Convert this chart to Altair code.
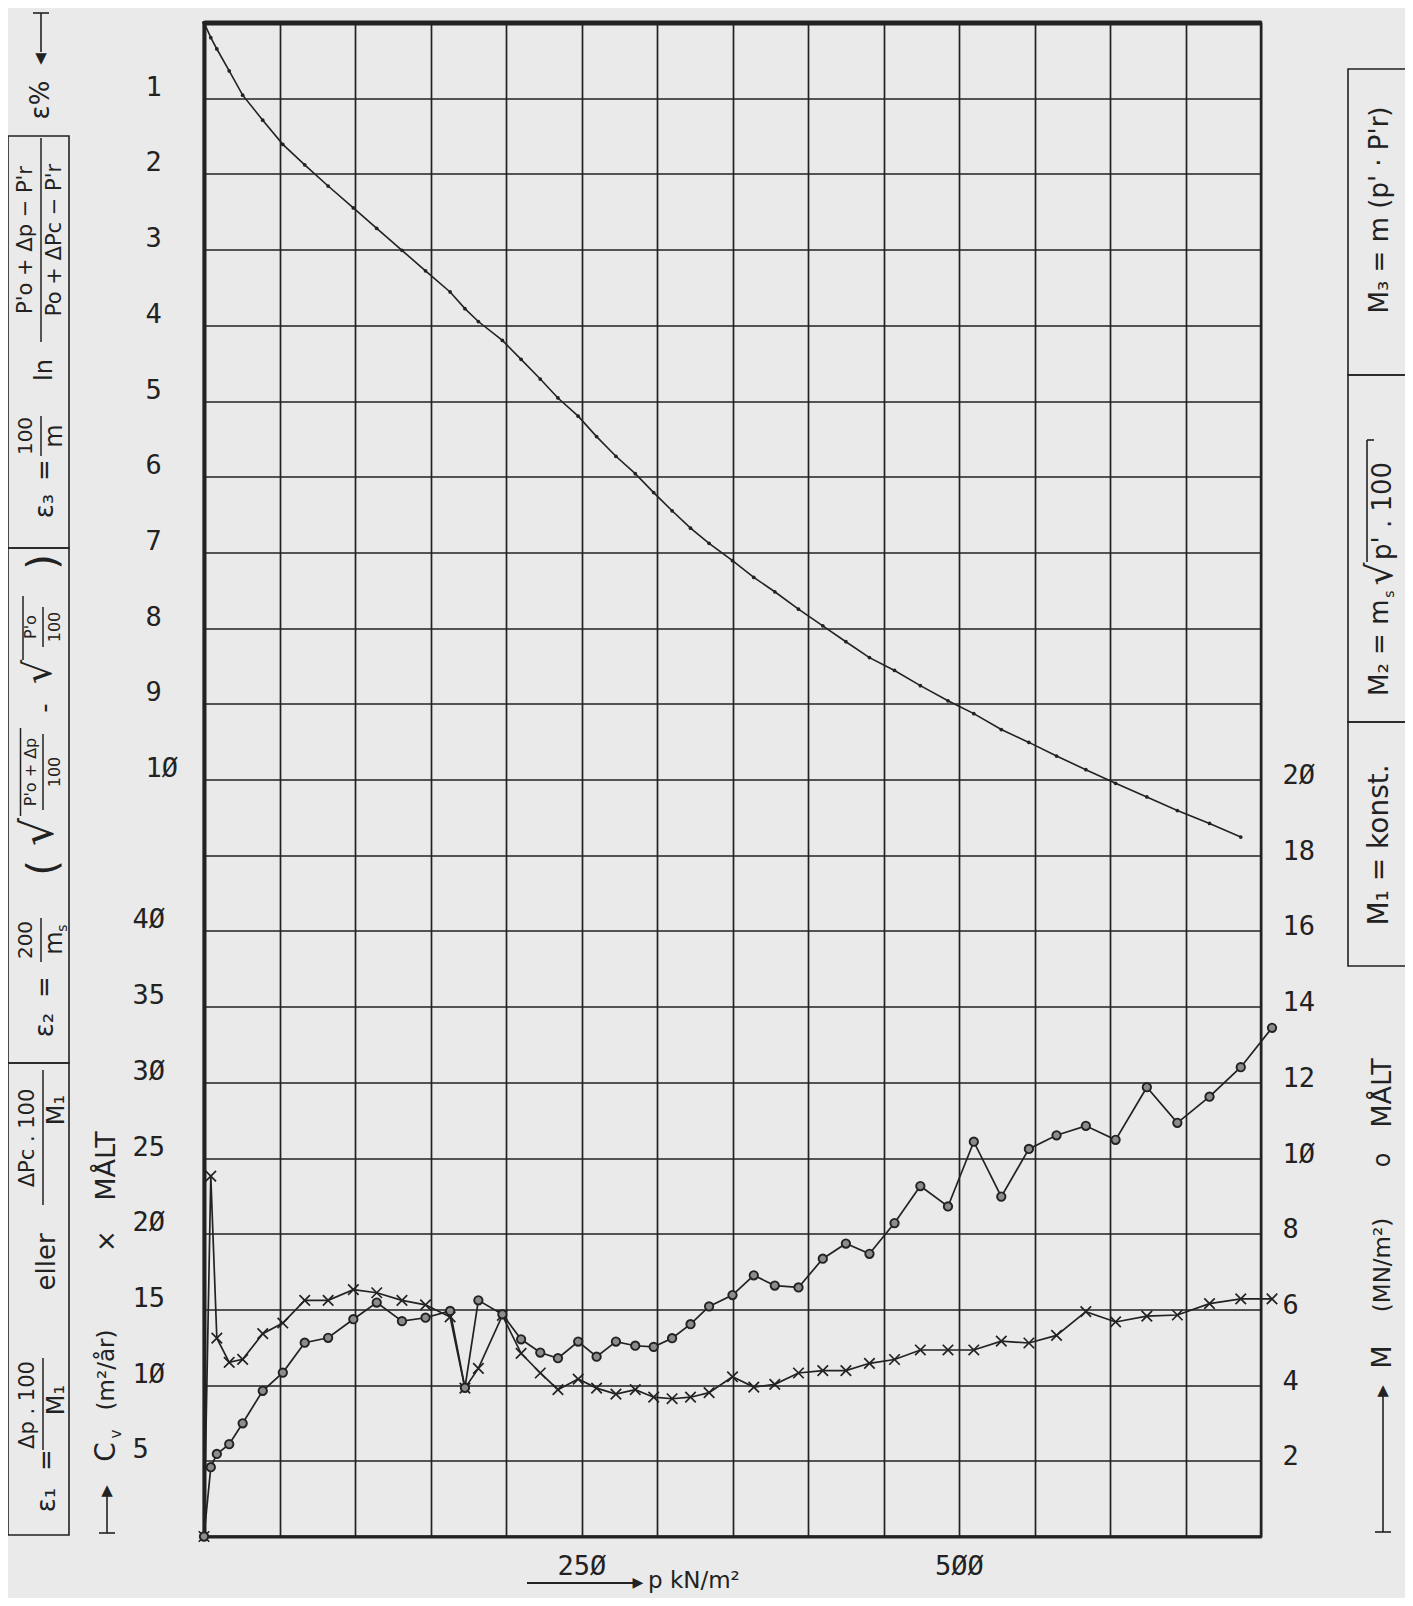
import altair as alt
import pandas as pd

# ---------------- data ----------------
# load steps p (kN/m2), shared by all three series
P = [0, 4.5, 8.5, 16.7, 25.6, 38.9, 52.2, 66.7, 82.2, 98.9,
     114.4, 131.1, 146.7, 163, 172.8, 181.7, 197.6, 210, 222.7, 234.4,
     247.8, 260, 272.8, 285.6, 297.8, 310, 322.2, 334.5, 350, 364.1,
     378, 393.7, 409.8, 425.1, 440.7, 457.3, 474.4, 492.7, 509.8, 528,
     546.3, 564.6, 584, 603.7, 624.4, 644.6, 665.9, 686.6, 707.3]
# strain eps (%)
EPS = [0, 0.2, 0.35, 0.64, 0.96, 1.29, 1.61, 1.88, 2.16, 2.45,
       2.72, 3.01, 3.28, 3.56, 3.78, 3.95, 4.20, 4.45, 4.71, 4.96,
       5.20, 5.47, 5.73, 5.96, 6.21, 6.45, 6.68, 6.88, 7.11, 7.33,
       7.52, 7.75, 7.97, 8.18, 8.39, 8.56, 8.76, 8.96, 9.13, 9.34,
       9.51, 9.69, 9.87, 10.05, 10.23, 10.41, 10.58, 10.76]
# Cv (m2/year), measured (x)
CV = [0, 23.8, 13.1, 11.5, 11.7, 13.4, 14.1, 15.6, 15.6, 16.3,
      16.1, 15.6, 15.3, 14.5, 9.8, 11.1, 14.6, 12.1, 10.8, 9.7,
      10.4, 9.8, 9.4, 9.7, 9.2, 9.1, 9.2, 9.5, 10.55, 9.87,
      10.05, 10.8, 10.96, 10.96, 11.44, 11.69, 12.32, 12.32, 12.32, 12.9,
      12.78, 13.28, 14.85, 14.17, 14.55, 14.63, 15.38, 15.69, 15.69]
# M (MN/m2), measured (o)
M = [0, 1.83, 2.18, 2.44, 2.99, 3.85, 4.33, 5.12, 5.25, 5.74,
     6.18, 5.69, 5.78, 5.96, 3.93, 6.24, 5.87, 5.21, 4.86, 4.71,
     5.15, 4.75, 5.15, 5.04, 5.01, 5.24, 5.61, 6.08, 6.38, 6.90,
     6.63, 6.58, 7.34, 7.74, 7.47, 8.28, 9.26, 8.72, 10.43, 8.98,
     10.24, 10.6, 10.85, 10.48, 11.87, 10.93, 11.62, 12.40, 13.44]

X_GRID = list(range(0, 701, 50))
X_LABELS = [250, 500]
EPS_GRID = list(range(0, 21))
EPS_LABELS = list(range(1, 11))
CV_LABELS = [5, 10, 15, 20, 25, 30, 35, 40]
M_LABELS = [2, 4, 6, 8, 10, 12, 14, 16, 18, 20]

# ---------------- style ----------------
INK = "#222222"
BG = "#eaeaea"
NUM_FONT = "DejaVu Sans Mono"
SANS = "DejaVu Sans"
NUM_SIZE = 27
W, H = 1057, 1514
X0, Y0 = 204.0, 22.5   # page position of the plot origin

ZERO = "replace(datum.label, regexp('0', 'g'), 'Ø')"

eps_df = pd.DataFrame({"p": P[:len(EPS)], "eps": EPS})
cv_df = pd.DataFrame({"p": P, "cv": CV})
m_df = pd.DataFrame({"p": P, "m": M})

xscale = alt.Scale(domain=[0, 700], nice=False, zero=False)

x_axis_main = alt.Axis(
    orient="bottom", values=X_GRID, grid=True, gridColor=INK, gridWidth=1.7,
    gridOpacity=1, domain=True, domainColor=INK, domainWidth=3, ticks=False,
    tickSize=0, labelExpr=f"indexof({X_LABELS}, datum.value) >= 0 ? {ZERO} : ''",
    labelFont=NUM_FONT, labelFontSize=NUM_SIZE, labelColor=INK, labelPadding=30,
    labelBaseline="middle", labelFlush=False, labelOverlap=False, title=None)
x_axis_top = alt.Axis(
    orient="top", grid=False, domain=True, domainColor=INK, domainWidth=5,
    ticks=False, labels=False, title=None)

eps_axis = alt.Axis(
    orient="left", values=EPS_GRID, grid=True, gridColor=INK, gridWidth=1.7,
    gridOpacity=1, domain=True, domainColor=INK, domainWidth=4, ticks=False,
    tickSize=0,
    labelExpr=f"datum.value >= {EPS_LABELS[0]} && datum.value <= {EPS_LABELS[-1]} ? {ZERO} : ''",
    labelAlign="left", labelPadding=59, labelOffset=-11, labelBaseline="middle",
    labelFont=NUM_FONT, labelFontSize=NUM_SIZE, labelColor=INK,
    labelOverlap=False, title=None)
cv_axis = alt.Axis(
    orient="left", values=CV_LABELS, grid=False, domain=False, ticks=False,
    tickSize=0, labelExpr=ZERO, labelAlign="left", labelPadding=72,
    labelOffset=-11, labelBaseline="middle", labelFont=NUM_FONT,
    labelFontSize=NUM_SIZE, labelColor=INK, labelOverlap=False, title=None)
m_axis = alt.Axis(
    orient="right", values=M_LABELS, grid=False, domain=False, ticks=False,
    tickSize=0, labelExpr=ZERO, labelAlign="left", labelPadding=21,
    labelOffset=-4, labelBaseline="middle", labelFont=NUM_FONT,
    labelFontSize=NUM_SIZE, labelColor=INK, labelOverlap=False, title=None)

eps_scale = alt.Scale(domain=[0, 20], reverse=True, nice=False, zero=False)
cv_scale = alt.Scale(domain=[0, 100], nice=False, zero=False)
m_scale = alt.Scale(domain=[0, 40], nice=False, zero=False)

eps_c = alt.Chart(eps_df).mark_line(
    color=INK, strokeWidth=1.6,
    point=alt.OverlayMarkDef(filled=True, size=14, color=INK),
).encode(
    x=alt.X("p:Q", scale=xscale, axis=x_axis_main),
    y=alt.Y("eps:Q", scale=eps_scale, axis=eps_axis),
)

cv_line = alt.Chart(cv_df).mark_line(color=INK, strokeWidth=1.7).encode(
    x=alt.X("p:Q", scale=xscale, axis=x_axis_top),
    y=alt.Y("cv:Q", scale=cv_scale, axis=cv_axis),
)
XPATH = "M-1,-1L1,1M1,-1L-1,1"
cv_pts = alt.Chart(cv_df).mark_point(
    shape=XPATH, filled=False, size=110, strokeWidth=1.7, color=INK, opacity=1
).encode(
    x=alt.X("p:Q", scale=xscale, axis=None),
    y=alt.Y("cv:Q", scale=cv_scale, axis=None),
)

m_line = alt.Chart(m_df).mark_line(color=INK, strokeWidth=1.7).encode(
    x=alt.X("p:Q", scale=xscale, axis=None),
    y=alt.Y("m:Q", scale=m_scale, axis=m_axis),
)
m_pts = alt.Chart(m_df).mark_point(
    shape="circle", filled=True, size=70, fill="#8c8c8c", stroke=INK,
    strokeWidth=1.9, opacity=1
).encode(
    x=alt.X("p:Q", scale=xscale, axis=None),
    y=alt.Y("m:Q", scale=m_scale, axis=None),
)

# ---------------- annotations ----------------
ONE = alt.Data(values=[{"a": 1}])


def tx(s, x, y, size=20, angle=270, font=SANS, align="center", baseline="middle"):
    return alt.Chart(ONE).mark_text(
        text=s, angle=angle, fontSize=size, font=font, align=align,
        baseline=baseline, color=INK
    ).encode(x=alt.value(x - X0), y=alt.value(y - Y0))


def ln(x1, y1, x2, y2, w=1.5):
    return alt.Chart(ONE).mark_rule(color=INK, strokeWidth=w).encode(
        x=alt.value(x1 - X0), x2=alt.value(x2 - X0),
        y=alt.value(y1 - Y0), y2=alt.value(y2 - Y0))


def bx(x1, y1, x2, y2, w=1.6):
    return alt.Chart(ONE).mark_rect(fillOpacity=0, stroke=INK, strokeWidth=w).encode(
        x=alt.value(x1 - X0), x2=alt.value(x2 - X0),
        y=alt.value(y1 - Y0), y2=alt.value(y2 - Y0))


ann = []
# eps % arrow at top left
ann += [ln(33, 13, 49, 13, 1.6), ln(41, 13, 41, 52, 1.6),
        tx("▼", 41, 58, 15, angle=0), tx("ε%", 41, 100, 26)]
# formula boxes left
ann += [bx(8, 136, 69, 548), bx(8, 548, 69, 1063), bx(8, 1063, 69, 1535)]
# eps3
ann += [tx("ε₃", 45, 506, 26), tx("=", 45, 470, 26),
        tx("100", 26, 436, 20), tx("m", 55, 436, 24), ln(41, 416, 41, 456),
        tx("ln", 45, 370, 24),
        tx("P'o  +  Δp  −  P'r", 26, 240, 21), tx("Po  +  ΔPc  −  P'r", 55, 240, 21),
        ln(41, 138, 41, 342)]
# eps2
ann += [tx("ε₂", 45, 1025, 26), tx("=", 45, 987, 26),
        tx("200", 26, 940, 20), tx("m", 55, 943, 24), tx("s", 63, 928, 14),
        ln(41, 918, 41, 962),
        tx("(", 44, 868, 40),
        tx("√", 40, 832, 44), ln(20.5, 816, 20.5, 728),
        tx("P'o + Δp", 31, 772, 16), tx("100", 55, 772, 16), ln(43, 734, 43, 810),
        tx("-", 45, 708, 26),
        tx("√", 40, 672, 38), ln(23, 660, 23, 596),
        tx("P'o", 31, 627, 16), tx("100", 55, 627, 16), ln(43, 607, 43, 647),
        tx(")", 44, 562, 40)]
# eps1
ann += [tx("ε₁", 47, 1500, 26), tx("=", 47, 1460, 26),
        tx("Δp . 100", 28, 1405, 21), tx("M₁", 57, 1400, 24), ln(43, 1358, 43, 1450),
        tx("eller", 47, 1262, 26),
        tx("ΔPc  .  100", 28, 1138, 21), tx("M₁", 57, 1110, 24), ln(43, 1070, 43, 1205)]
# Cv title column
ann += [ln(99, 1533, 115, 1533, 1.6), ln(107, 1533, 107, 1494, 1.6),
        tx("▲", 107, 1490, 15, angle=0),
        tx("C", 107, 1452, 28), tx("v", 116, 1434, 15),
        tx("(m²/år)", 107, 1370, 23), tx("×", 107, 1241, 26), tx("MÅLT", 107, 1166, 27)]
# right boxes
ann += [bx(1348, 69, 1406, 375), bx(1348, 375, 1406, 722), bx(1348, 722, 1406, 966),
        tx("M₃  =  m  (p' · P'r)", 1380, 210, 26),
        tx("M₂ = m", 1380, 696, 26, align="left"), tx("s", 1390, 594, 14),
        tx("√", 1381, 574, 36), ln(1367, 562, 1367, 440, 1.6), ln(1367, 440, 1374, 440, 1.6),
        tx("p'  .  100", 1383, 560, 26, align="left"),
        tx("M₁  =  konst.", 1380, 845, 28)]
# M title column
ann += [ln(1375, 1532, 1391, 1532, 1.6), ln(1383, 1532, 1383, 1394, 1.6),
        tx("▲", 1383, 1390, 15, angle=0),
        tx("M", 1383, 1357, 27), tx("(MN/m²)", 1383, 1265, 23),
        tx("o", 1383, 1160, 24), tx("MÅLT", 1383, 1093, 27)]
# x title
ann += [ln(527, 1583, 634, 1583, 1.8), tx("▶", 638, 1583, 14, angle=0),
        tx("p  kN/m²", 648, 1581, 23, angle=0, align="left")]

chart = alt.layer(
    eps_c, cv_line, cv_pts, m_line, m_pts, *ann
).resolve_scale(y="independent").resolve_axis(x="independent").properties(
    width=W, height=H,
    padding={"left": 196, "top": 14.5, "right": 144, "bottom": 61},
    autosize=alt.AutoSizeParams(type="none"),
    background=BG,
).configure_view(stroke=INK, strokeWidth=2.5)

chart.save("out.html", embed_options={"renderer": "svg", "actions": False})
